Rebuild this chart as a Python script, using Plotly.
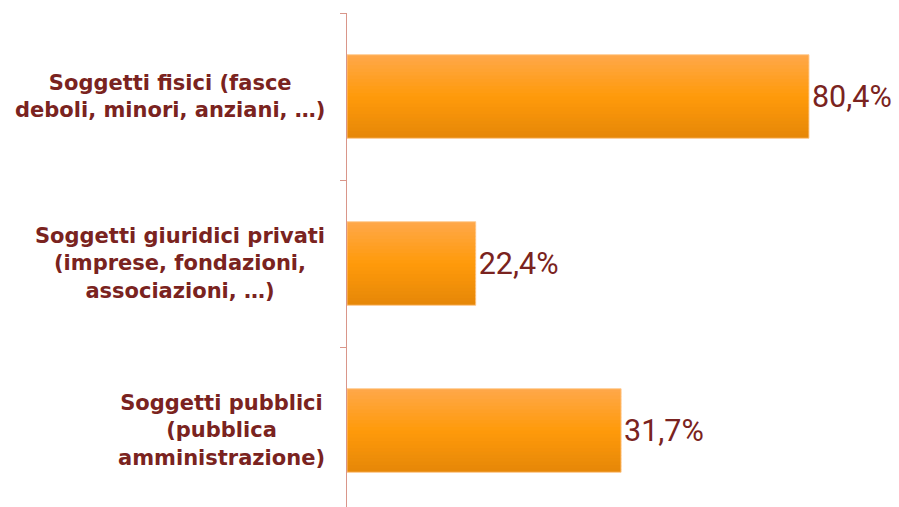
import plotly.graph_objects as go

# ---- data ----
categories = [
    "Soggetti fisici (fasce<br>deboli, minori, anziani, …)",
    "Soggetti giuridici privati<br>(imprese, fondazioni,<br>associazioni, …)",
    "Soggetti pubblici<br>(pubblica<br>amministrazione)",
]
bar_lengths = [80.4, 22.4, 47.7]          # bar lengths as drawn in the picture
value_labels = ["80,4%", "22,4%", "31,7%"]  # labels as printed

# ---- style ----
TEXT_COLOR = "#7A2320"
AXIS_COLOR = "#D9968A"
BAR_WIDTH = 0.5
N_STRIPES = 24
stops = [(0.0, (255, 168, 74)), (0.5, (255, 154, 10)), (1.0, (230, 135, 8))]


def grad(t):
    for (t0, c0), (t1, c1) in zip(stops[:-1], stops[1:]):
        if t0 <= t <= t1:
            f = (t - t0) / (t1 - t0)
            r, g, b = (round(a + (bb - a) * f) for a, bb in zip(c0, c1))
            return f"rgb({r},{g},{b})"
    r, g, b = stops[-1][1]
    return f"rgb({r},{g},{b})"


fig = go.Figure()
w = BAR_WIDTH / N_STRIPES
for i in range(N_STRIPES):
    t = (i + 0.5) / N_STRIPES
    fig.add_trace(go.Bar(
        x=bar_lengths, y=categories, orientation="h",
        width=w * 1.4 if i < N_STRIPES - 1 else w,
        offset=-BAR_WIDTH / 2 + i * w,
        marker=dict(color=grad(t), line=dict(width=0)),
        hoverinfo="skip", showlegend=False,
    ))

# outline + value labels
fig.add_trace(go.Bar(
    x=bar_lengths, y=categories, orientation="h",
    width=BAR_WIDTH,
    marker=dict(color="rgba(0,0,0,0)", line=dict(width=1, color="rgba(255,200,140,0.9)")),
    text=value_labels, textposition="outside", cliponaxis=False,
    textfont=dict(family="Roboto", size=30.5, color=TEXT_COLOR),
    showlegend=False,
))

for c in categories:
    fig.add_annotation(
        xref="paper", x=0, yref="y", y=c, xanchor="right", xshift=-20,
        text=c, showarrow=False, align="center",
        font=dict(family="DejaVu Sans", size=21, color=TEXT_COLOR, weight="bold"),
    )

fig.update_layout(
    width=899, height=507,
    margin=dict(l=347, r=0, t=13, b=0),
    paper_bgcolor="white", plot_bgcolor="white",
    barmode="overlay",
    xaxis=dict(range=[0, 96.07], visible=False, fixedrange=True),
    yaxis=dict(
        type="category", range=[2.458, -0.5],
        showticklabels=False, showgrid=False, zeroline=False,
        showline=True, linecolor=AXIS_COLOR, linewidth=1.3,
        ticks="outside", tickson="boundaries", ticklen=6,
        tickcolor=AXIS_COLOR, tickwidth=1.3,
    ),
)

fig.write_html(
    "out.html",
    config={"displayModeBar": False},
    post_script="document.body.style.margin='0';document.body.style.overflow='hidden';",
)
